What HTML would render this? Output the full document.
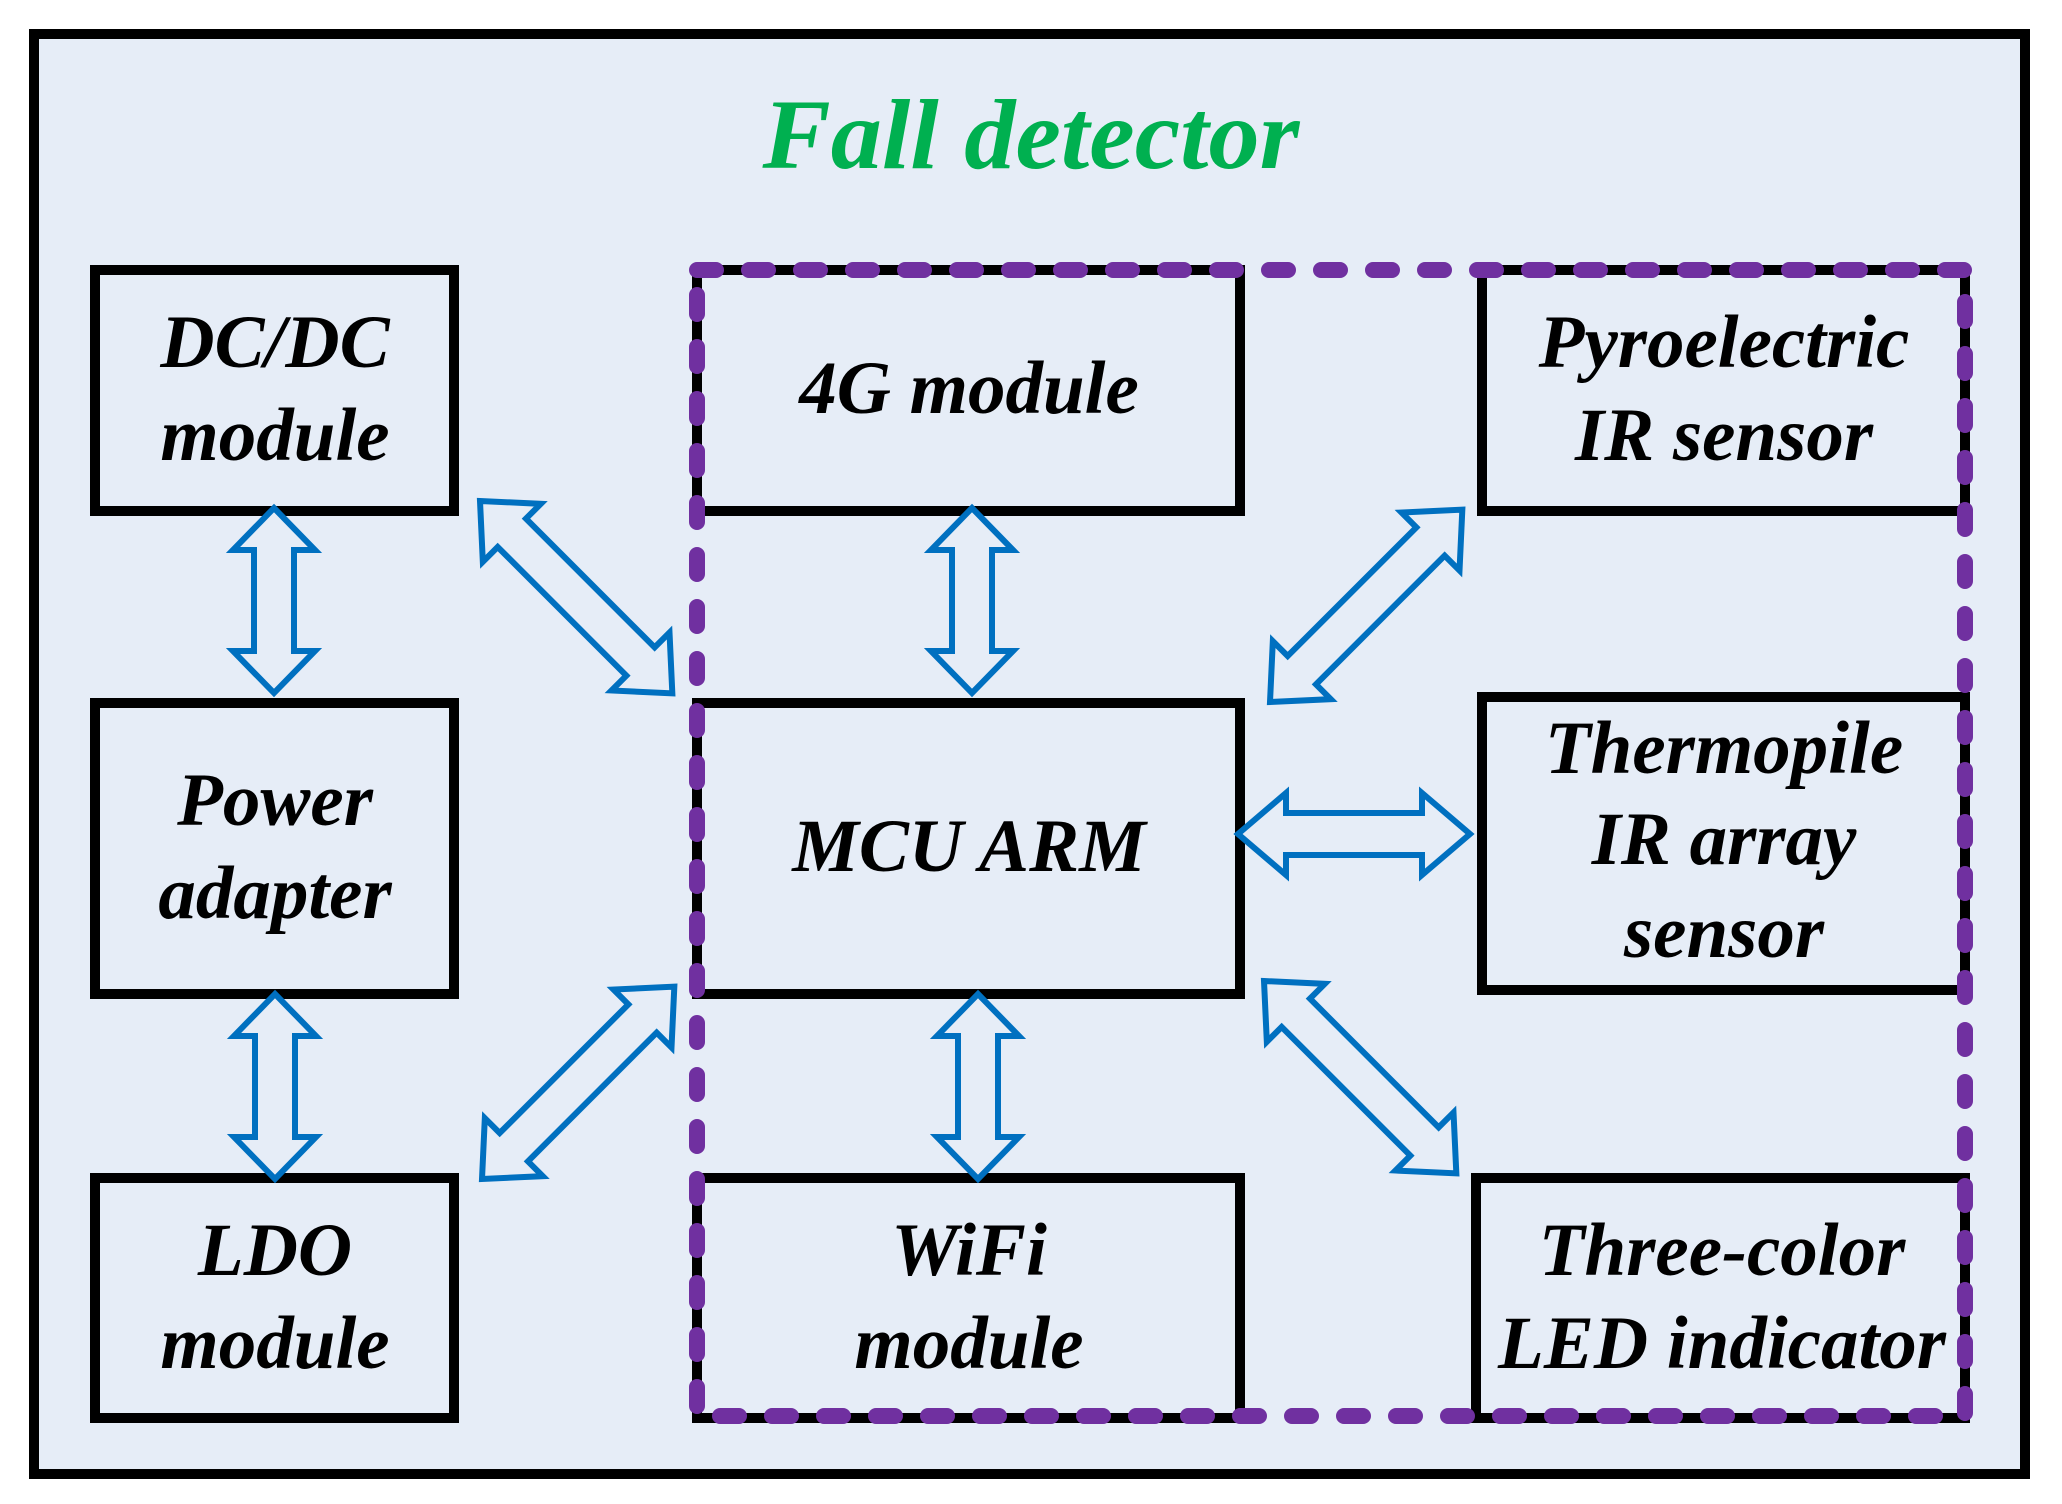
<!DOCTYPE html>
<html><head><meta charset="utf-8"><style>
html,body{margin:0;padding:0;background:#fff;}
svg{display:block;}
text{font-family:"Liberation Serif",serif;font-weight:bold;font-style:italic;}
</style></head><body>
<svg width="2062" height="1504" viewBox="0 0 2062 1504" xmlns="http://www.w3.org/2000/svg">
<rect x="0" y="0" width="2062" height="1504" fill="#fff"/>
<rect x="34" y="34" width="1991" height="1440" fill="#E6EDF7" stroke="#000" stroke-width="10"/>
<text x="1031" y="168" font-size="100" fill="#00B050" text-anchor="middle" textLength="537" lengthAdjust="spacingAndGlyphs">Fall detector</text>

<g fill="none" stroke="#000" stroke-width="10">
<rect x="95" y="270" width="359" height="241"/>
<rect x="95" y="703" width="359" height="291"/>
<rect x="95" y="1178" width="359" height="240"/>
<rect x="697" y="270" width="543" height="241"/>
<rect x="697" y="703" width="543" height="291"/>
<rect x="697" y="1178" width="543" height="240"/>
<rect x="1482" y="270" width="483" height="241"/>
<rect x="1482" y="697" width="483" height="293"/>
<rect x="1476" y="1178" width="489" height="240"/>
</g>
<rect x="697" y="270" width="1268" height="1146" fill="none" stroke="#7030A0" stroke-width="16" stroke-linecap="round" stroke-dasharray="19 33"/>

<g font-size="75" fill="#000" text-anchor="middle">
<text x="275" y="367">DC/DC</text><text x="275" y="460">module</text>
<text x="275" y="825">Power</text><text x="275" y="918">adapter</text>
<text x="275" y="1275">LDO</text><text x="275" y="1368">module</text>
<text x="969" y="413">4G module</text>
<text x="969" y="871">MCU ARM</text>
<text x="969" y="1275">WiFi</text><text x="969" y="1368">module</text>
<text x="1724" y="367">Pyroelectric</text><text x="1724" y="460">IR sensor</text>
<text x="1724" y="773">Thermopile</text><text x="1724" y="864">IR array</text><text x="1724" y="957">sensor</text>
<text x="1722" y="1275">Three-color</text><text x="1722" y="1368">LED indicator</text>
</g>

<defs>
<polygon id="a185" points="0,0 42,-41 42,-20 143,-20 143,-41 185,0 143,41 143,20 42,20 42,41"/>
<polygon id="a232" points="0,0 48,-41 48,-21 184,-21 184,-41 232,0 184,41 184,21 48,21 48,41"/>
<polygon id="a272" points="0,0 45,-41 45,-20 227,-20 227,-41 272,0 227,41 227,20 45,20 45,41"/>
</defs>
<g fill="#E6EDF7" stroke="#0070C0" stroke-width="6" stroke-linejoin="miter">
<use href="#a185" transform="translate(274,508) rotate(90)"/>
<use href="#a185" transform="translate(275,994) rotate(90)"/>
<use href="#a185" transform="translate(972,508) rotate(90)"/>
<use href="#a185" transform="translate(978,994) rotate(90)"/>
<use href="#a232" transform="translate(1238,834)"/>
<use href="#a272" transform="translate(480,501) rotate(45)"/>
<use href="#a272" transform="translate(482,1179) rotate(-45)"/>
<use href="#a272" transform="translate(1270,702) rotate(-45)"/>
<use href="#a272" transform="translate(1264,981) rotate(45)"/>
</g>
</svg>
</body></html>
